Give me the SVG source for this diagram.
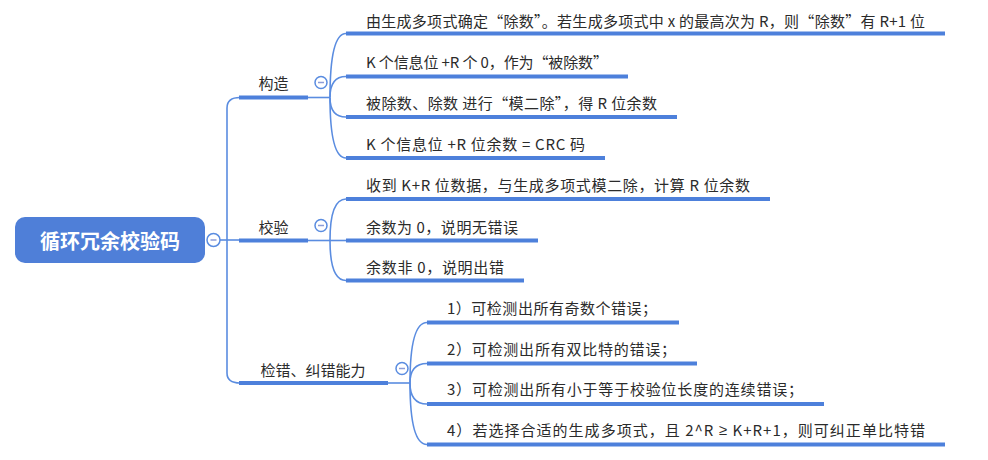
<svg xmlns="http://www.w3.org/2000/svg" width="988" height="460" viewBox="0 0 988 460">
<style>
.t{font-family:"Noto Sans CJK SC","Noto Sans",sans-serif;font-size:15px;fill:#2b2b2b;dominant-baseline:central}
.rt{font-family:"Noto Sans CJK SC","Noto Sans",sans-serif;font-size:20px;font-weight:bold;fill:#ffffff;dominant-baseline:central;text-anchor:middle}
.bt{text-anchor:middle}
.ge{font-family:"Liberation Sans","Noto Sans",sans-serif}
.ul{stroke:#4D80DB;stroke-width:4;fill:none}
.cn{fill:none;stroke:#5A8CE0;stroke-width:1.6}
.btn{fill:#ffffff;stroke:#5A8CE0;stroke-width:1.5}
.mn{stroke:#8C9DD8;stroke-width:1.5}
</style>
<rect width="988" height="460" fill="#ffffff"/>
<g id="connectors">
  <path class="cn" d="M220,240 H239"/>
  <path class="cn" d="M240,97.5 Q227,97.5 227,108 V373 Q227,383 240,383"/>
  <path class="cn" d="M308,97.5 H330"/>
  <path class="cn" d="M330,97.5 Q330,33.5 346,33.5"/>
  <path class="cn" d="M330,97.5 Q330,76.5 346,76.5"/>
  <path class="cn" d="M330,97.5 Q330,117 346,117"/>
  <path class="cn" d="M330,97.5 Q330,158 346,158"/>
  <path class="cn" d="M308,240.5 H330"/>
  <path class="cn" d="M330,240.5 Q330,199 346,199"/>
  <path class="cn" d="M330,240.5 H346"/>
  <path class="cn" d="M330,240.5 Q330,280.5 346,280.5"/>
  <path class="cn" d="M388,383 H410"/>
  <path class="cn" d="M410,383 Q410,322.5 427,322.5"/>
  <path class="cn" d="M410,383 Q410,363.5 427,363.5"/>
  <path class="cn" d="M410,383 Q410,404 427,404"/>
  <path class="cn" d="M410,383 Q410,444.5 427,444.5"/>
</g>
<g id="root">
  <rect x="15" y="217" width="190" height="46" rx="10" fill="#4F7FD8"/>
  <text class="rt" x="110" y="240.5">循环冗余校验码</text>
  <circle class="btn" cx="213.5" cy="240" r="6.5"/>
  <line class="mn" x1="210.5" y1="240" x2="216.5" y2="240"/>
</g>
<g id="b-gouzao">
  <line class="ul" x1="239" y1="97.5" x2="308" y2="97.5"/>
  <text class="t bt" x="273.5" y="82.5">构造</text>
  <circle class="btn" cx="321" cy="82.5" r="6"/>
  <line class="mn" x1="318" y1="82.5" x2="324" y2="82.5"/>
</g>
<g id="b-jiaoyan">
  <line class="ul" x1="239" y1="240.5" x2="308" y2="240.5"/>
  <text class="t bt" x="273.5" y="226">校验</text>
  <circle class="btn" cx="321" cy="225.5" r="6"/>
  <line class="mn" x1="318" y1="225.5" x2="324" y2="225.5"/>
</g>
<g id="b-jiancuo">
  <line class="ul" x1="239" y1="383" x2="388" y2="383"/>
  <text class="t bt" x="313" y="369">检错、纠错能力</text>
  <circle class="btn" cx="402" cy="368.5" r="6"/>
  <line class="mn" x1="399" y1="368.5" x2="405" y2="368.5"/>
</g>
<g id="c1-1">
  <line class="ul" x1="346" y1="33.5" x2="945" y2="33.5"/>
  <text class="t" x="366" y="20" textLength="559" lengthAdjust="spacing">由生成多项式确定“除数”。若生成多项式中 x 的最高次为 R，则“除数”有 R+1 位</text>
</g>
<g id="c1-2">
  <line class="ul" x1="346" y1="76.5" x2="628" y2="76.5"/>
  <text class="t" x="366" y="61.5" textLength="242" lengthAdjust="spacing">K 个信息位 +R 个 0，作为“被除数”</text>
</g>
<g id="c1-3">
  <line class="ul" x1="346" y1="117" x2="677" y2="117"/>
  <text class="t" x="366" y="102" textLength="291" lengthAdjust="spacing">被除数、除数 进行“模二除”，得 R 位余数</text>
</g>
<g id="c1-4">
  <line class="ul" x1="346" y1="158" x2="605" y2="158"/>
  <text class="t" x="366" y="143" textLength="219" lengthAdjust="spacing">K 个信息位 +R 位余数 = CRC 码</text>
</g>
<g id="c2-1">
  <line class="ul" x1="346" y1="199" x2="770" y2="199"/>
  <text class="t" x="366" y="184.5" textLength="384" lengthAdjust="spacing">收到 K+R 位数据，与生成多项式模二除，计算 R 位余数</text>
</g>
<g id="c2-2">
  <line class="ul" x1="346" y1="240.5" x2="538" y2="240.5"/>
  <text class="t" x="366" y="226" textLength="152" lengthAdjust="spacing">余数为 0，说明无错误</text>
</g>
<g id="c2-3">
  <line class="ul" x1="346" y1="280.5" x2="524" y2="280.5"/>
  <text class="t" x="366" y="266" textLength="138" lengthAdjust="spacing">余数非 0，说明出错</text>
</g>
<g id="c3-1">
  <line class="ul" x1="427" y1="322.5" x2="679" y2="322.5"/>
  <text class="t" x="447" y="307" textLength="210" lengthAdjust="spacing">1）可检测出所有奇数个错误；</text>
</g>
<g id="c3-2">
  <line class="ul" x1="427" y1="363.5" x2="697" y2="363.5"/>
  <text class="t" x="447" y="348" textLength="229" lengthAdjust="spacing">2）可检测出所有双比特的错误；</text>
</g>
<g id="c3-3">
  <line class="ul" x1="427" y1="404" x2="824" y2="404"/>
  <text class="t" x="447" y="388.5" textLength="356" lengthAdjust="spacing">3）可检测出所有小于等于校验位长度的连续错误；</text>
</g>
<g id="c3-4">
  <line class="ul" x1="427" y1="444.5" x2="945" y2="444.5"/>
  <text class="t" x="447" y="429" textLength="478" lengthAdjust="spacing">4）若选择合适的生成多项式，且 2^R <tspan class="ge">≥</tspan> K+R+1，则可纠正单比特错</text>
</g>
</svg>
